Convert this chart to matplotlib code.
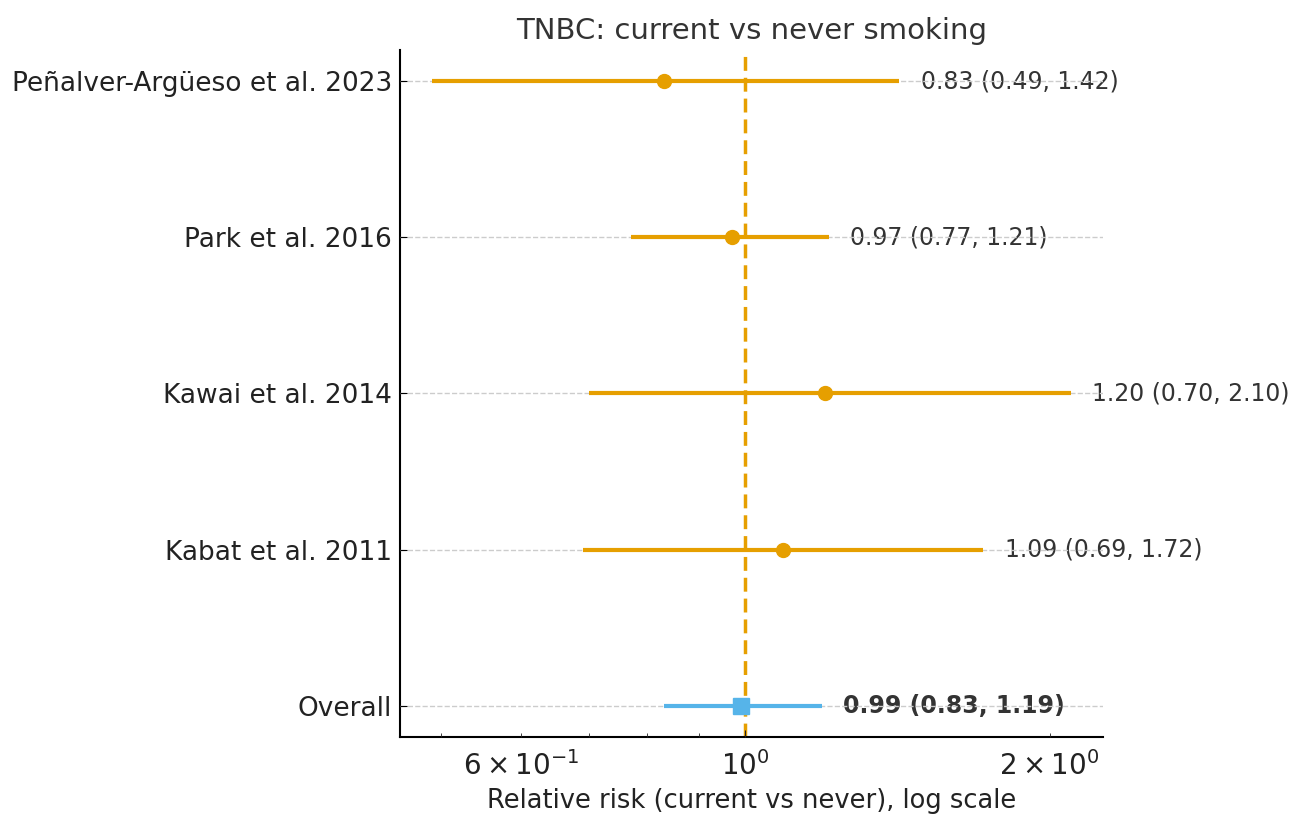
import matplotlib
matplotlib.use("Agg")
import matplotlib.pyplot as plt
import numpy as np

studies = ["Peñalver-Argüeso et al. 2023", "Park et al. 2016", "Kawai et al. 2014",
           "Kabat et al. 2011", "Overall"]
rr = [0.83, 0.97, 1.20, 1.09, 0.99]
lo = [0.49, 0.77, 0.70, 0.69, 0.83]
hi = [1.42, 1.21, 2.10, 1.72, 1.19]

orange = "#E69F00"
blue = "#56B4E9"
txt = "#333333"

fig = plt.figure(figsize=(12.96, 8.14), dpi=100)
ax = fig.add_axes([0.309, 0.0946, 0.542, 0.844])

n = len(studies)
ypos = np.arange(n)[::-1]

for i, (name, r, l, h, y) in enumerate(zip(studies, rr, lo, hi, ypos)):
    overall = name == "Overall"
    col = blue if overall else orange
    ax.plot([l, h], [y, y], color=col, lw=3, solid_capstyle="butt", zorder=3)
    ax.plot([r], [y], marker="s" if overall else "o", color=col,
            markersize=11 if overall else 10, zorder=4, linestyle="none")
    ax.text(h * 1.05, y, f"{r:.2f} ({l:.2f}, {h:.2f})", va="center", ha="left",
            fontsize=17, color=txt, fontweight="bold" if overall else "normal",
            clip_on=False, zorder=1)

ax.axvline(1.0, color=orange, lw=2.5, linestyle=(0, (4, 2)), zorder=2)

ax.set_xscale("log")
ax.set_yticks(ypos)
ax.set_yticklabels(studies, fontsize=19, color="#222222")
ax.tick_params(axis="x", which="both", labelsize=20, direction="in", colors="#222222", pad=10)
ax.tick_params(axis="x", which="major", length=5)
ax.tick_params(axis="x", which="minor", length=3)
ax.tick_params(axis="y", direction="in", length=5, pad=6)
ax.yaxis.grid(True, linestyle="--", color="#cccccc", lw=1, zorder=2)
ax.set_axisbelow(False)
for s in ["top", "right"]:
    ax.spines[s].set_visible(False)
ax.spines["left"].set_linewidth(1.5)
ax.spines["bottom"].set_linewidth(1.5)

ax.set_xlabel("Relative risk (current vs never), log scale", fontsize=18.5, color="#222222", labelpad=5)
ax.set_title("TNBC: current vs never smoking", fontsize=21, color="#333333", pad=8)

fig.savefig("out.png", dpi=100)
